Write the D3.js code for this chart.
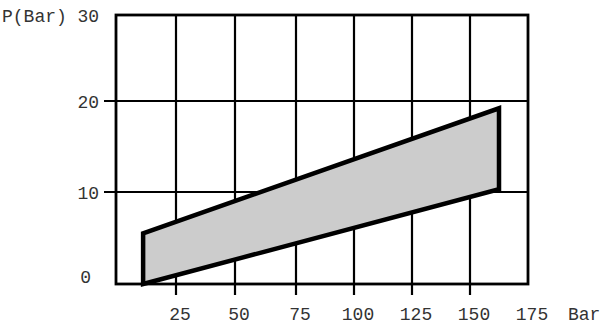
<!DOCTYPE html>
<html>
<head>
<meta charset="utf-8">
<script src="https://cdn.jsdelivr.net/npm/d3@7"></script>
<style>
  body { margin: 0; background: #fff; }
  text { font-family: "Liberation Mono", "DejaVu Sans Mono", monospace; fill: #333; }
</style>
</head>
<body>
<div id="chart"></div>
<script>
// values
var xTicks = [25, 50, 75, 100, 125, 150, 175];
var xGrid = [25, 50, 75, 100, 125, 150];
var yTicks = [0, 10, 20, 30];
var yGrid = [10, 20];
var xUnit = "Bar";
var yUnit = "P(Bar)";

// outline of the shaded band: [flow, pressure]
var bandX = [11.3, 11.3, 162.5, 162.5];
var bandY = [0, 5.5, 19.2, 10.3];

function init(){

    var w = 600;
    var h = 327;

    var svg = d3.select("#chart")
        .append("svg")
        .attr("width", w)
        .attr("height", h);

    // the drawing is not quite evenly spaced, so the scales are piecewise
    var x = d3.scaleLinear()
        .domain([0, 25, 50, 75, 100, 125, 150, 175])
        .range([116, 176, 235, 296, 354, 412, 470, 528]);

    var y = d3.scaleLinear()
        .domain([0, 10, 20, 30])
        .range([284, 192, 101, 15]);

    // vertical grid lines, running a little below the frame
    svg.selectAll(".vgrid")
        .data(xGrid)
        .enter()
        .append("line")
        .attr("class", "vgrid")
        .attr("x1", d => x(d))
        .attr("x2", d => x(d))
        .attr("y1", y(30))
        .attr("y2", y(0) + 11)
        .attr("stroke", "#000")
        .attr("stroke-width", 2.2);

    // horizontal grid lines, sticking out on the left
    svg.selectAll(".hgrid")
        .data(yGrid)
        .enter()
        .append("line")
        .attr("class", "hgrid")
        .attr("x1", x(0) - 12)
        .attr("x2", x(175))
        .attr("y1", d => y(d))
        .attr("y2", d => y(d))
        .attr("stroke", "#000")
        .attr("stroke-width", 2.2);

    // frame
    svg.append("rect")
        .attr("x", x(0))
        .attr("y", y(30))
        .attr("width", x(175) - x(0))
        .attr("height", y(0) - y(30))
        .attr("fill", "none")
        .attr("stroke", "#000")
        .attr("stroke-width", 2.8);

    // shaded band
    var pts = bandX.map(function(d, i){ return [x(d), y(bandY[i])]; });
    svg.append("path")
        .attr("d", d3.line()(pts) + "Z")
        .attr("fill", "#cccccc")
        .attr("stroke", "#000")
        .attr("stroke-width", 4.5)
        .attr("stroke-linejoin", "miter");

    // x labels
    svg.selectAll(".xlab")
        .data(xTicks)
        .enter()
        .append("text")
        .attr("class", "xlab")
        .attr("x", d => x(d) + 4)
        .attr("y", 320)
        .attr("text-anchor", "middle")
        .attr("font-size", 18)
        .text(d => d);

    svg.append("text")
        .attr("x", 568)
        .attr("y", 320)
        .attr("font-size", 18)
        .text(xUnit);

    // y labels ("0" sits higher and further left in the original)
    svg.selectAll(".ylab")
        .data(yTicks)
        .enter()
        .append("text")
        .attr("class", "ylab")
        .attr("x", d => d == 0 ? 91 : 99)
        .attr("y", d => d == 0 ? y(d) - 7 : y(d) + 1)
        .attr("dy", ".35em")
        .attr("text-anchor", "end")
        .attr("font-size", 18)
        .text(d => d);

    svg.append("text")
        .attr("x", 2)
        .attr("y", y(30) + 1)
        .attr("dy", ".35em")
        .attr("font-size", 18)
        .text(yUnit);
}
window.onload = init;
</script>
</body>
</html>
